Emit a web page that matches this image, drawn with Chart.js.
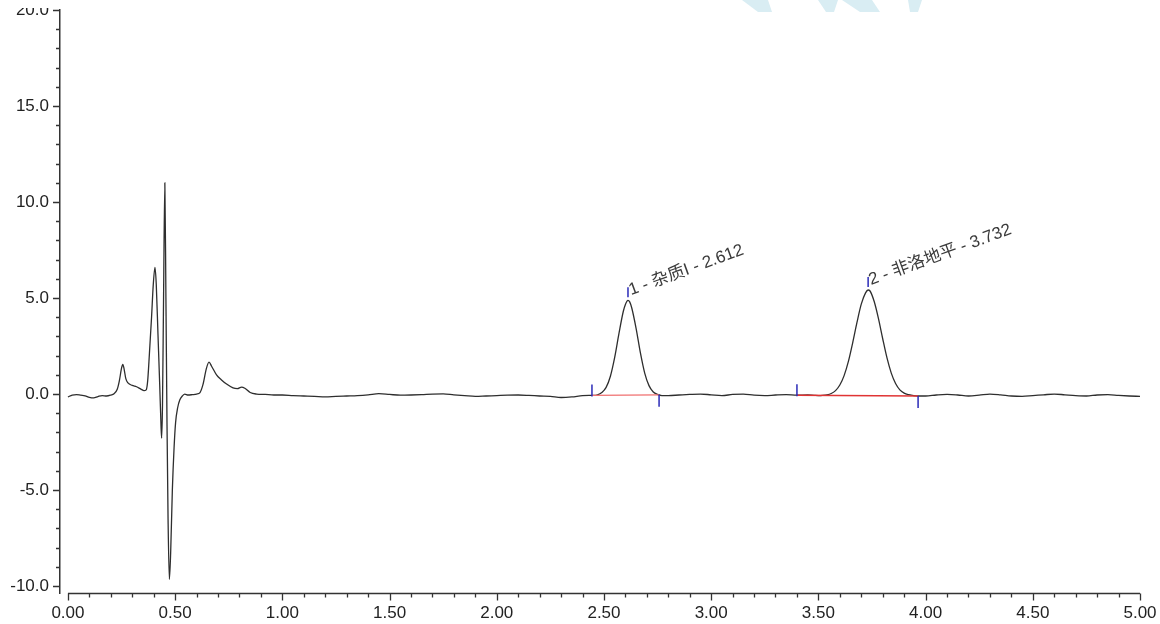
<!DOCTYPE html>
<html lang="zh-CN">
<head>
<meta charset="UTF-8">
<title>色谱图 - 非洛地平</title>
<script src="https://cdn.jsdelivr.net/npm/chart.js"></script>
<style>
    body { margin: 0; background: #fff; }
    #wrap { position: relative; width: 1160px; height: 624px; }
</style>
</head>
<body>
<div id="wrap"><canvas id="chromatogram" width="1160" height="624"></canvas></div>
<script>
    // 保留时间 (min) 与信号值
    const retTime = [
        0.00, 0.02, 0.04, 0.06, 0.08, 0.10, 0.12, 0.14, 0.16, 0.18, 0.20, 0.215,
        0.23, 0.24, 0.25, 0.256, 0.262, 0.27, 0.28, 0.30, 0.32, 0.34, 0.355, 0.365,
        0.372, 0.38, 0.39, 0.398, 0.406, 0.412, 0.42, 0.428, 0.434, 0.437, 0.441, 0.446,
        0.452, 0.457, 0.462, 0.467, 0.473, 0.479, 0.487, 0.495, 0.502, 0.512, 0.522, 0.535,
        0.545, 0.56, 0.58, 0.60, 0.616, 0.63, 0.645, 0.658, 0.67, 0.693, 0.715, 0.74,
        0.77, 0.79, 0.81, 0.825, 0.85, 0.88, 0.92, 0.96,
        1.00, 1.05, 1.10, 1.15, 1.20, 1.25, 1.30, 1.35, 1.40, 1.45, 1.50, 1.55,
        1.60, 1.65, 1.70, 1.75, 1.80, 1.85, 1.90, 1.95, 2.00, 2.05, 2.10, 2.15,
        2.20, 2.25, 2.30, 2.35, 2.40, 2.43,
        2.45, 2.47, 2.49, 2.51, 2.53, 2.55, 2.57, 2.59, 2.60, 2.612, 2.62, 2.63,
        2.65, 2.67, 2.69, 2.71, 2.73, 2.75, 2.77,
        2.80, 2.85, 2.90, 2.95, 3.00, 3.05, 3.10, 3.15, 3.20, 3.25, 3.30, 3.35,
        3.40, 3.45, 3.48,
        3.50, 3.52, 3.54, 3.56, 3.58, 3.60, 3.62, 3.64, 3.66, 3.68, 3.70, 3.72,
        3.732, 3.74, 3.76, 3.78, 3.80, 3.82, 3.84, 3.86, 3.88, 3.90, 3.92, 3.94, 3.965,
        4.00, 4.05, 4.10, 4.15, 4.20, 4.25, 4.30, 4.35, 4.40, 4.45, 4.50, 4.55,
        4.60, 4.65, 4.70, 4.75, 4.80, 4.85, 4.90, 4.95, 5.00
    ];
    const signal = [
        -0.15, -0.05, -0.03, -0.06, -0.09, -0.17, -0.20, -0.13, -0.08, -0.10, -0.05, 0.02,
        0.25, 0.70, 1.35, 1.55, 1.30, 0.80, 0.58, 0.45, 0.38, 0.26, 0.18, 0.22,
        0.70, 2.10, 4.00, 5.70, 6.60, 5.70, 3.10, 0.50, -1.60, -2.30, -0.60, 5.00,
        11.00, 5.00, -1.50, -6.50, -9.65, -8.30, -5.00, -2.80, -1.50, -0.70, -0.30, -0.08,
        0.00, -0.05, -0.03, 0.00, 0.08, 0.50, 1.30, 1.66, 1.45, 1.00, 0.75, 0.52,
        0.32, 0.28, 0.36, 0.30, 0.08, 0.00, -0.02, -0.05,
        -0.05, -0.08, -0.10, -0.12, -0.15, -0.12, -0.10, -0.08, -0.04, 0.02, -0.02, -0.06,
        -0.05, -0.03, 0.00, 0.01, -0.04, -0.08, -0.12, -0.10, -0.08, -0.06, -0.05, -0.07,
        -0.10, -0.12, -0.18, -0.15, -0.08, -0.07,
        -0.07, -0.04, 0.08, 0.35, 0.93, 1.91, 3.16, 4.30, 4.67, 4.88, 4.80, 4.47,
        3.41, 2.14, 1.09, 0.44, 0.11, -0.02, -0.08,
        -0.08, -0.05, -0.02, 0.00, -0.04, -0.08, -0.02, 0.00, -0.06, -0.08, -0.05, -0.03,
        -0.06, -0.05, -0.07,
        -0.08, -0.07, -0.04, 0.03, 0.18, 0.47, 0.96, 1.70, 2.67, 3.73, 4.68, 5.27,
        5.42, 5.38, 4.83, 3.94, 2.88, 1.88, 1.09, 0.55, 0.22, 0.05, -0.03, -0.07, -0.10,
        -0.10, -0.05, -0.02, -0.05, -0.10, -0.06, 0.00, -0.04, -0.10, -0.12, -0.08, -0.04,
        0.00, -0.04, -0.08, -0.10, -0.05, -0.03, -0.07, -0.10, -0.12
    ];

    // 峰信息
    const peakNo = [1, 2];
    const peakName = ['杂质I', '非洛地平'];
    const peakRT = [2.612, 3.732];
    const peakStart = [2.444, 3.40];
    const peakEnd = [2.757, 3.965];

    // 在曲线上线性插值取值
    function signalAt(t) {
        for (let i = 0; i < retTime.length - 1; i++) {
            if (t >= retTime[i] && t <= retTime[i + 1]) {
                const f = (t - retTime[i]) / (retTime[i + 1] - retTime[i]);
                return signal[i] + f * (signal[i + 1] - signal[i]);
            }
        }
        return signal[signal.length - 1];
    }

    const trace = retTime.map((t, i) => ({ x: t, y: signal[i] }));
    const baselineColors = ['#f07070', '#e03434'];
    const baselineWidths = [1.2, 1.6];
    const baselineSets = peakNo.map((n, i) => ({
        label: 'baseline ' + n,
        data: [
            { x: peakStart[i], y: signalAt(peakStart[i]) },
            { x: peakEnd[i], y: signalAt(peakEnd[i]) }
        ],
        borderColor: baselineColors[i],
        borderWidth: baselineWidths[i],
        pointRadius: 0,
        order: 0
    }));

    const FONT = '"Liberation Sans", Arial, "Noto Sans CJK SC", sans-serif';
    Chart.defaults.font.family = FONT;
    Chart.defaults.font.size = 17;
    Chart.defaults.color = '#222';

    // 水印 (淡蓝色)
    const watermark = {
        id: 'watermark',
        beforeDraw(chart) {
            const ctx = chart.ctx;
            ctx.save();
            ctx.fillStyle = '#d9edf3';
            const shapes = [
                [[742, 0], [768, 0], [772, 12], [758, 12]],
                [[818, 0], [838, 0], [834, 12], [826, 12]],
                [[842, 0], [872, 0], [880, 12], [860, 12]],
                [[908, 0], [922, 0], [918, 12], [910, 12]]
            ];
            shapes.forEach(s => {
                ctx.beginPath();
                ctx.moveTo(s[0][0], s[0][1]);
                for (let k = 1; k < s.length; k++) ctx.lineTo(s[k][0], s[k][1]);
                ctx.closePath();
                ctx.fill();
            });
            ctx.restore();
        }
    };

    // 峰标记：起点、终点、峰顶的蓝色短线与斜向标签
    const peakMarks = {
        id: 'peakMarks',
        afterDatasetsDraw(chart) {
            const { ctx, scales: { x, y } } = chart;
            ctx.save();
            ctx.strokeStyle = '#2b2bb8';
            ctx.lineWidth = 1.5;
            ctx.beginPath();
            peakNo.forEach((n, i) => {
                const sx = x.getPixelForValue(peakStart[i]);
                const sy = y.getPixelForValue(signalAt(peakStart[i]));
                ctx.moveTo(sx, sy + 1); ctx.lineTo(sx, sy - 11);
                const ex = x.getPixelForValue(peakEnd[i]);
                const ey = y.getPixelForValue(signalAt(peakEnd[i]));
                ctx.moveTo(ex, ey); ctx.lineTo(ex, ey + 12);
                const ax = x.getPixelForValue(peakRT[i]);
                const ay = y.getPixelForValue(signalAt(peakRT[i]));
                ctx.moveTo(ax, ay - 3); ctx.lineTo(ax, ay - 13);
            });
            ctx.stroke();

            ctx.fillStyle = '#3a3a3a';
            ctx.font = '17px ' + FONT;
            ctx.textBaseline = 'alphabetic';
            ctx.textAlign = 'left';
            peakNo.forEach((n, i) => {
                const ax = x.getPixelForValue(peakRT[i]);
                const ay = y.getPixelForValue(signalAt(peakRT[i]));
                ctx.save();
                ctx.translate(ax + 3, ay - 5);
                ctx.rotate(-20 * Math.PI / 180);
                ctx.fillText(n + ' - ' + peakName[i] + ' - ' + peakRT[i].toFixed(3), 0, 0);
                ctx.restore();
            });
            ctx.restore();
        }
    };

    // 坐标轴刻度线 (主刻度长、次刻度短)
    const axisTicks = {
        id: 'axisTicks',
        afterDraw(chart) {
            const { ctx, chartArea, scales: { x, y } } = chart;
            ctx.save();
            ctx.strokeStyle = '#333';
            ctx.lineWidth = 1.3;
            ctx.beginPath();
            const b = Math.round(chartArea.bottom) + 0.5;
            ctx.moveTo(x.getPixelForValue(0), b);
            ctx.lineTo(chartArea.right, b);
            x.ticks.forEach(t => {
                const px = Math.round(x.getPixelForValue(t.value)) + 0.5;
                const major = Math.round(t.value * 10) % 5 === 0;
                ctx.moveTo(px, b);
                ctx.lineTo(px, b + (major ? 7 : 4));
            });
            const l = chartArea.left;
            y.ticks.forEach(t => {
                const py = Math.round(y.getPixelForValue(t.value)) + 0.5;
                const major = Math.round(t.value) % 5 === 0;
                ctx.moveTo(l, py);
                ctx.lineTo(l - (major ? 7 : 4), py);
            });
            ctx.stroke();
            // 顶部被裁切的部分
            ctx.fillStyle = '#fff';
            ctx.fillRect(0, 0, chartArea.left - 2, 8);
            ctx.restore();
        }
    };

    new Chart(document.getElementById('chromatogram'), {
        type: 'line',
        data: {
            datasets: [
                ...baselineSets,
                {
                    label: 'signal',
                    data: trace,
                    borderColor: '#2e2e2e',
                    borderWidth: 1.3,
                    pointRadius: 0,
                    cubicInterpolationMode: 'monotone',
                    order: 1
                }
            ]
        },
        options: {
            responsive: false,
            animation: false,
            devicePixelRatio: 1,
            layout: { padding: { top: 10, right: 20, left: 0, bottom: 0 } },
            plugins: { legend: { display: false }, tooltip: { enabled: false } },
            scales: {
                x: {
                    type: 'linear',
                    min: -0.037,
                    max: 5.0,
                    afterFit: s => { s.height = 31; },
                    grid: { display: false },
                    border: { display: false },
                    ticks: {
                        stepSize: 0.1,
                        includeBounds: false,
                        autoSkip: false,
                        maxRotation: 0,
                        padding: 2,
                        callback: v => Math.round(v * 10) % 5 === 0 ? v.toFixed(2) : ''
                    }
                },
                y: {
                    type: 'linear',
                    min: -10.36,
                    max: 20,
                    afterFit: s => { s.width = 60; s.paddingTop = 0; s.paddingBottom = 0; },
                    grid: { display: true, drawOnChartArea: false, drawTicks: false },
                    border: { display: true, color: '#333', width: 1.5 },
                    ticks: {
                        stepSize: 1,
                        includeBounds: false,
                        autoSkip: false,
                        padding: 11,
                        callback: v => Math.round(v) % 5 === 0 ? v.toFixed(1) : ''
                    }
                }
            }
        },
        plugins: [watermark, peakMarks, axisTicks]
    });
</script>
</body>
</html>
